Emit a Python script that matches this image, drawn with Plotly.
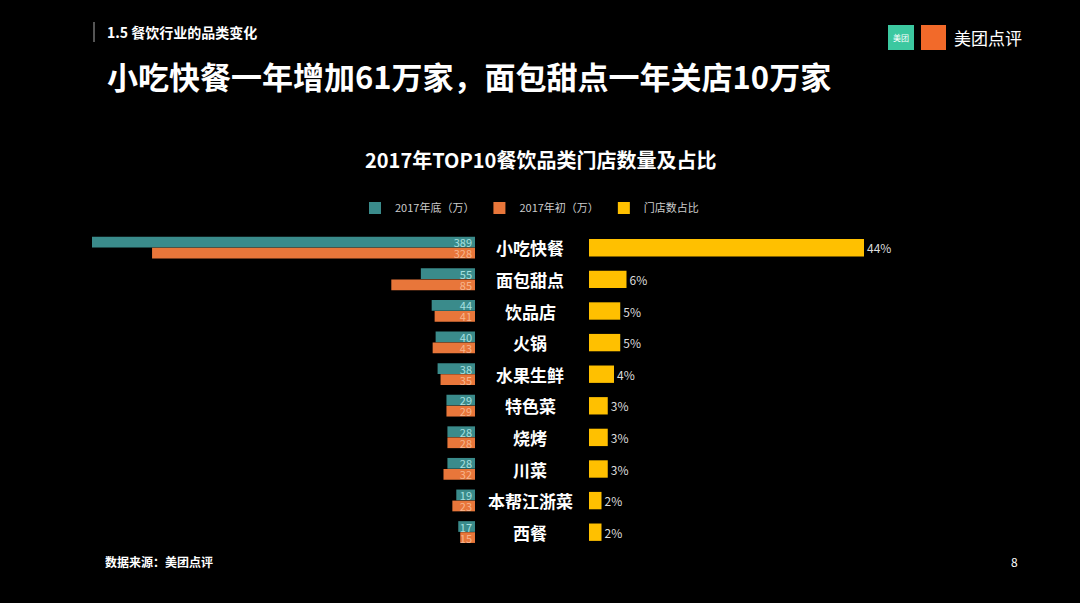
import plotly.graph_objects as go

categories = ["小吃快餐","面包甜点","饮品店","火锅","水果生鲜","特色菜","烧烤","川菜","本帮江浙菜","西餐"]
end_2017 = [389,55,44,40,38,29,28,28,19,17]
start_2017 = [328,85,41,43,35,29,28,32,23,15]
share = [44,6,5,5,4,3,3,3,2,2]
share_labels = [f"{v}%" for v in share]

TEAL = "#3a8b8b"; ORANGE = "#e8763a"; YELLOW = "#ffc000"
FONT = "Noto Sans CJK SC"
W, H = 1080, 603

fig = go.Figure()
fig.add_bar(y=categories, x=end_2017, orientation="h", name="2017年底（万）",
            marker=dict(color=TEAL, line=dict(width=0)), width=0.34, offset=-0.35, xaxis="x", yaxis="y",
            text=[str(v) for v in end_2017], textposition="inside", insidetextanchor="start", textangle=0,
            textfont=dict(size=11, color="#a8e0e0", family=FONT), constraintext="none", cliponaxis=False)
fig.add_bar(y=categories, x=start_2017, orientation="h", name="2017年初（万）",
            marker=dict(color=ORANGE, line=dict(width=0)), width=0.34, offset=0.0, xaxis="x", yaxis="y",
            text=[str(v) for v in start_2017], textposition="inside", insidetextanchor="start", textangle=0,
            textfont=dict(size=11, color="#f7b58e", family=FONT), constraintext="none", cliponaxis=False)
fig.add_bar(y=categories, x=share, orientation="h", name="门店数占比",
            marker=dict(color=YELLOW, line=dict(width=0)), width=0.55, offset=-0.275, xaxis="x2", yaxis="y",
            text=share_labels, textposition="outside", textangle=0,
            textfont=dict(size=12, color="#dddddd", family=FONT), cliponaxis=False)

for c in categories:
    fig.add_annotation(x=530/W, xref="paper", y=c, yref="y", text=f"<b>{c}</b>",
                       showarrow=False, font=dict(size=17, color="white", family=FONT))

ann = [
    dict(x=105/W, y=1-32/H, text="<b>1.5 餐饮行业的品类变化</b>", size=14, xanchor="left"),
    dict(x=105/W, y=1-75/H, text="<b>小吃快餐一年增加61万家，面包甜点一年关店10万家</b>", size=31, xanchor="left"),
    dict(x=540/W, y=1-159/H, text="<b>2017年TOP10餐饮品类门店数量及占比</b>", size=20, xanchor="center"),
    dict(x=103/W, y=1-561/H, text="<b>数据来源：美团点评</b>", size=12, xanchor="left"),
    dict(x=1020/W, y=1-561/H, text="8", size=12, xanchor="right"),
    dict(x=952/W, y=1-37/H, text="美团点评", size=17, xanchor="left"),
    dict(x=901/W, y=1-37/H, text="美团", size=8, xanchor="center"),
]
for a in ann:
    fig.add_annotation(x=a["x"], y=a["y"], xref="paper", yref="paper", text=a["text"], showarrow=False,
                       xanchor=a["xanchor"], yanchor="middle", font=dict(size=a["size"], color="white", family=FONT))

shapes = [
    dict(type="line", x0=94/W, x1=94/W, y0=1-22/H, y1=1-42/H, line=dict(color="#aaaaaa", width=1)),
    dict(type="rect", x0=888/W, x1=914/W, y0=1-25/H, y1=1-50/H, fillcolor="#3cc8a0", line=dict(width=0)),
    dict(type="rect", x0=921/W, x1=946/W, y0=1-25/H, y1=1-50/H, fillcolor="#f26a2a", line=dict(width=0)),
]
for s in shapes:
    fig.add_shape(xref="paper", yref="paper", **s)

fig.update_layout(
    width=W, height=H, margin=dict(l=0, r=0, t=0, b=0),
    paper_bgcolor="black", plot_bgcolor="black", barmode="overlay",
    font=dict(family=FONT, color="white"),
    xaxis=dict(domain=[92/W, 475/W], range=[389, 0], visible=False, fixedrange=True),
    xaxis2=dict(domain=[589/W, 1], range=[0, (W-589)/6.25], visible=False, anchor="y"),
    yaxis=dict(domain=[1-548/H, 1-232/H], autorange="reversed", visible=False),
    legend=dict(orientation="h", x=355/W, y=1-208/H, xanchor="left", yanchor="middle",
                font=dict(size=11, color="#cccccc", family=FONT), bgcolor="rgba(0,0,0,0)",
                itemwidth=30, traceorder="normal"),
    showlegend=True,
)
fig.write_html("out.html", config={"displayModeBar": False},
               post_script="document.body.style.margin='0';document.body.style.background='black';")
